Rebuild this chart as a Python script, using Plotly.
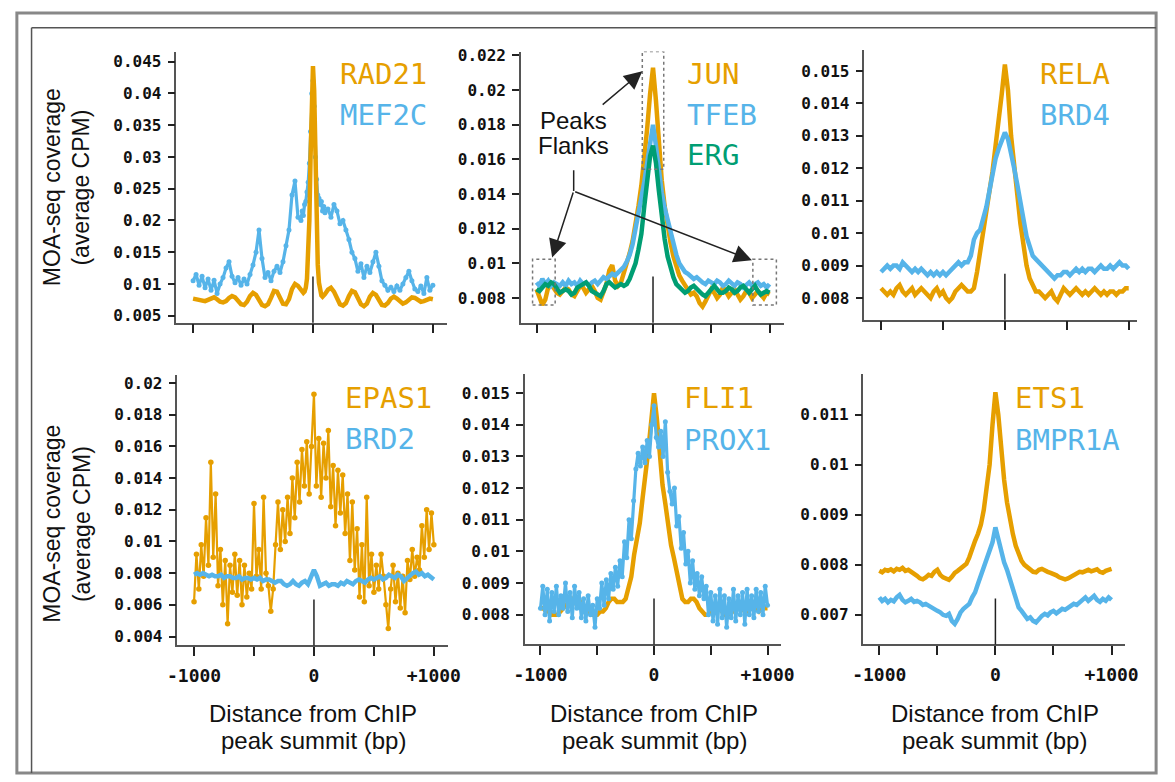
import plotly.graph_objects as go

W, H = 1175, 782
ORANGE = "#E69F00"
BLUE = "#56B4E9"
GREEN = "#009E73"

# ---------------- positions (bp from ChIP peak summit) ----------------
POS_25 = list(range(-1000, 1001, 25))
POS_20 = list(range(-1000, 1001, 20))
POS_P1 = list(range(-1000, -124, 25)) + list(range(-100, 101, 10)) + list(range(125, 1001, 25))

# ---------------- panel 1 ----------------
RAD21 = [0.0077, 0.0076, 0.0075, 0.0074, 0.0073, 0.0075, 0.0078, 0.0079, 0.0076, 0.0072,
         0.0071, 0.0073, 0.0078, 0.0081, 0.0079, 0.0073, 0.0068, 0.0067, 0.0072, 0.0081,
         0.0086, 0.0083, 0.0074, 0.0067, 0.0065, 0.0068, 0.0078, 0.0089, 0.0088, 0.0079,
         0.0069, 0.0068, 0.0076, 0.0092, 0.0100, 0.0097,
         0.0090, 0.0087, 0.0086, 0.0088, 0.0094, 0.0108, 0.0140, 0.0200, 0.0300, 0.0400,
         0.0443, 0.0405, 0.0300, 0.0195, 0.0130, 0.0102, 0.0088, 0.0082, 0.0080, 0.0081, 0.0084,
         0.0091, 0.0094, 0.0088, 0.0077, 0.0068, 0.0066, 0.0070, 0.0081, 0.0089, 0.0087,
         0.0078, 0.0068, 0.0065, 0.0069, 0.0080, 0.0086, 0.0083, 0.0075, 0.0067, 0.0066,
         0.0070, 0.0077, 0.0080, 0.0077, 0.0072, 0.0069, 0.0071, 0.0075, 0.0079, 0.0078,
         0.0074, 0.0072, 0.0073, 0.0075, 0.0077, 0.0076]
MEF2C = [0.0105, 0.0115, 0.0098, 0.0112, 0.0094, 0.0108, 0.0090, 0.0106, 0.0085, 0.0100,
         0.0110, 0.0125, 0.0135, 0.0112, 0.0102, 0.0110, 0.0098, 0.0108, 0.0100, 0.0115,
         0.0130, 0.0150, 0.0185, 0.0140, 0.0110, 0.0118, 0.0105, 0.0120, 0.0128, 0.0118,
         0.0135, 0.0160, 0.0185, 0.0240, 0.0262, 0.0205,
         0.0200, 0.0215, 0.0208, 0.0225, 0.0230, 0.0245, 0.0260, 0.0290, 0.0340, 0.0400,
         0.0420, 0.0380, 0.0300, 0.0265, 0.0240, 0.0235, 0.0225, 0.0230, 0.0215, 0.0222, 0.0212,
         0.0218, 0.0205, 0.0225, 0.0215, 0.0195, 0.0200, 0.0185, 0.0170, 0.0150, 0.0140,
         0.0120, 0.0132, 0.0110, 0.0128, 0.0118, 0.0135, 0.0150, 0.0128, 0.0105, 0.0098,
         0.0090, 0.0095, 0.0088, 0.0097, 0.0090, 0.0100, 0.0110, 0.0120, 0.0105, 0.0092,
         0.0088, 0.0097, 0.0085, 0.0110, 0.0090, 0.0098]

# ---------------- panel 2 ----------------
JUN = [0.0085, 0.0080, 0.0076, 0.0079, 0.0086, 0.0088, 0.0085, 0.0083, 0.0082, 0.0084,
       0.0086, 0.0085, 0.0082, 0.0081, 0.0084, 0.0087, 0.0086, 0.0083, 0.0085, 0.0087,
       0.0084, 0.0080, 0.0079, 0.0083, 0.0088, 0.0096, 0.0099, 0.0090, 0.0087, 0.0089,
       0.0094, 0.0100, 0.0106, 0.0113, 0.0122, 0.0133, 0.0145, 0.0160, 0.0178, 0.0198,
       0.0213,
       0.0194, 0.0168, 0.0148, 0.0133, 0.0120, 0.0112, 0.0104, 0.0098, 0.0093, 0.0090,
       0.0087, 0.0084, 0.0082, 0.0083, 0.0081, 0.0077, 0.0075, 0.0078, 0.0082, 0.0085,
       0.0083, 0.0080, 0.0082, 0.0086, 0.0084, 0.0081, 0.0083, 0.0085, 0.0082, 0.0079,
       0.0081, 0.0084, 0.0083, 0.0080, 0.0082, 0.0084, 0.0082, 0.0080, 0.0083, 0.0082]
TFEB = [0.0089, 0.0087, 0.0091, 0.0088, 0.0090, 0.0087, 0.0089, 0.0088, 0.0087, 0.0089,
        0.0087, 0.0090, 0.0088, 0.0089, 0.0087, 0.0090, 0.0088, 0.0089, 0.0087, 0.0089,
        0.0090, 0.0088, 0.0090, 0.0092, 0.0091, 0.0093, 0.0094, 0.0093, 0.0095, 0.0096,
        0.0098, 0.0101, 0.0105, 0.0111, 0.0121, 0.0129, 0.0138, 0.0147, 0.0157, 0.0170,
        0.0180,
        0.0168, 0.0153, 0.0141, 0.0132, 0.0125, 0.0118, 0.0111, 0.0105, 0.0100, 0.0097,
        0.0095, 0.0094, 0.0092, 0.0091, 0.0092, 0.0090, 0.0089, 0.0088, 0.0090, 0.0089,
        0.0088, 0.0090, 0.0089, 0.0087, 0.0088, 0.0090, 0.0088, 0.0087, 0.0089, 0.0088,
        0.0086, 0.0088, 0.0089, 0.0087, 0.0088, 0.0089, 0.0087, 0.0088, 0.0086, 0.0088]
ERG = [0.0085, 0.0084, 0.0086, 0.0088, 0.0087, 0.0089, 0.0088, 0.0085, 0.0083, 0.0084,
       0.0085, 0.0084, 0.0082, 0.0083, 0.0086, 0.0087, 0.0088, 0.0089, 0.0087, 0.0084,
       0.0083, 0.0082, 0.0081, 0.0084, 0.0088, 0.0089, 0.0087, 0.0086, 0.0087, 0.0088,
       0.0087, 0.0088, 0.0091, 0.0095, 0.0100, 0.0108, 0.0117, 0.0133, 0.0150, 0.0162,
       0.0168,
       0.0158, 0.0142, 0.0127, 0.0114, 0.0104, 0.0097, 0.0092, 0.0088, 0.0086, 0.0084,
       0.0083, 0.0084, 0.0086, 0.0087, 0.0085, 0.0083, 0.0082, 0.0081, 0.0083, 0.0086,
       0.0087, 0.0085, 0.0083, 0.0083, 0.0084, 0.0086, 0.0085, 0.0083, 0.0084, 0.0086,
       0.0087, 0.0085, 0.0083, 0.0085, 0.0087, 0.0084, 0.0082, 0.0083, 0.0084, 0.0083]

# ---------------- panel 3 ----------------
RELA = [0.0083, 0.0082, 0.0081, 0.0082, 0.0081, 0.0083, 0.0084, 0.0082, 0.0081, 0.0082,
        0.0083, 0.0081, 0.0082, 0.0083, 0.0082, 0.0081, 0.0080, 0.0082, 0.0083, 0.0081,
        0.0082, 0.0080, 0.0079, 0.0080, 0.0082, 0.0083, 0.0084, 0.0083, 0.0082, 0.0082,
        0.0083, 0.0088, 0.0094, 0.0100, 0.0105, 0.0112, 0.0119, 0.0127, 0.0134, 0.0143,
        0.0152,
        0.0144, 0.0130, 0.0122, 0.0112, 0.0103, 0.0096, 0.0090, 0.0086, 0.0084, 0.0082,
        0.0082, 0.0081, 0.0080, 0.0081, 0.0082, 0.0080, 0.0079, 0.0081, 0.0083, 0.0082,
        0.0081, 0.0082, 0.0083, 0.0082, 0.0081, 0.0082, 0.0081, 0.0082, 0.0083, 0.0082,
        0.0081, 0.0082, 0.0081, 0.0082, 0.0082, 0.0081, 0.0082, 0.0082, 0.0083, 0.0083]
BRD4 = [0.0088, 0.0089, 0.0090, 0.0089, 0.0090, 0.0090, 0.0089, 0.0091, 0.0090, 0.0089,
        0.0088, 0.0089, 0.0088, 0.0089, 0.0088, 0.0087, 0.0088, 0.0087, 0.0088, 0.0087,
        0.0088, 0.0087, 0.0088, 0.0089, 0.0090, 0.0091, 0.0090, 0.0091, 0.0091, 0.0093,
        0.0098, 0.0100, 0.0101, 0.0104, 0.0108, 0.0113, 0.0118, 0.0123, 0.0126, 0.0129,
        0.0131,
        0.0129, 0.0125, 0.0120, 0.0115, 0.0110, 0.0104, 0.0099, 0.0096, 0.0093, 0.0092,
        0.0091, 0.0090, 0.0089, 0.0088, 0.0087, 0.0086, 0.0087, 0.0087, 0.0088, 0.0088,
        0.0087, 0.0088, 0.0089, 0.0088, 0.0089, 0.0088, 0.0089, 0.0089, 0.0088, 0.0089,
        0.0090, 0.0089, 0.0089, 0.0090, 0.0089, 0.0090, 0.0091, 0.0090, 0.0090, 0.0089]

# ---------------- panel 4 ----------------
EPAS1 = [0.0062, 0.0092, 0.0070, 0.0098, 0.0078, 0.0115, 0.0085, 0.0150, 0.0090, 0.0130,
         0.0072, 0.0095, 0.0060, 0.0088, 0.0048, 0.0085, 0.0068, 0.0092, 0.0066, 0.0088,
         0.0060, 0.0085, 0.0065, 0.0080, 0.0070, 0.0124, 0.0078, 0.0095, 0.0070, 0.0128,
         0.0080, 0.0072, 0.0056, 0.0070, 0.0098, 0.0125, 0.0095, 0.0120, 0.0100, 0.0128,
         0.0105, 0.0140, 0.0115, 0.0150, 0.0125, 0.0158, 0.0135, 0.0163, 0.0130, 0.0160,
         0.0193,
         0.0135, 0.0165, 0.0128, 0.0162, 0.0140, 0.0170, 0.0122, 0.0148, 0.0110, 0.0145,
         0.0118, 0.0142, 0.0105, 0.0130, 0.0088, 0.0125, 0.0082, 0.0108, 0.0065, 0.0098,
         0.0062, 0.0128, 0.0072, 0.0092, 0.0068, 0.0085, 0.0070, 0.0092, 0.0078, 0.0060,
         0.0045, 0.0070, 0.0085, 0.0062, 0.0080, 0.0058, 0.0078, 0.0055, 0.0088, 0.0076,
         0.0095, 0.0078, 0.0090, 0.0082, 0.0110, 0.0090, 0.0120, 0.0095, 0.0118, 0.0098]
BRD2 = [0.0079, 0.0080, 0.0079, 0.0080, 0.0079, 0.0078, 0.0079, 0.0078, 0.0078, 0.0079,
        0.0077, 0.0078, 0.0078, 0.0077, 0.0077, 0.0078, 0.0076, 0.0077, 0.0077, 0.0076,
        0.0077, 0.0076, 0.0077, 0.0075, 0.0076, 0.0076, 0.0075, 0.0074, 0.0075, 0.0075,
        0.0073, 0.0072, 0.0073, 0.0075, 0.0073, 0.0072, 0.0074, 0.0075, 0.0073, 0.0077,
        0.0082,
        0.0078, 0.0072, 0.0073, 0.0074, 0.0072, 0.0073, 0.0073, 0.0072, 0.0074, 0.0073,
        0.0075, 0.0074, 0.0073, 0.0075, 0.0076, 0.0075, 0.0074, 0.0076, 0.0077, 0.0076,
        0.0077, 0.0078, 0.0076, 0.0077, 0.0079, 0.0078, 0.0077, 0.0079, 0.0078, 0.0075,
        0.0077, 0.0079, 0.0080, 0.0081, 0.0079, 0.0080, 0.0078, 0.0079, 0.0077, 0.0076]

# ---------------- panel 5 ----------------
FLI1 = [0.0082, 0.0082, 0.0081, 0.0081, 0.0080, 0.0080, 0.0080, 0.0081, 0.0082, 0.0083,
        0.0084, 0.0085, 0.0084, 0.0083, 0.0084, 0.0082, 0.0081, 0.0081, 0.0080, 0.0080,
        0.0080, 0.0081, 0.0081, 0.0082, 0.0084, 0.0085, 0.0085, 0.0084, 0.0084, 0.0084,
        0.0085, 0.0088, 0.0092, 0.0099, 0.0104, 0.0109, 0.0117, 0.0124, 0.0132, 0.0141,
        0.0150,
        0.0142, 0.0130, 0.0121, 0.0115, 0.0108, 0.0102, 0.0098, 0.0093, 0.0088, 0.0085,
        0.0084, 0.0084, 0.0085, 0.0085, 0.0084, 0.0082, 0.0081, 0.0080, 0.0080, 0.0081,
        0.0082, 0.0083, 0.0082, 0.0081, 0.0080, 0.0080, 0.0081, 0.0081, 0.0082, 0.0082,
        0.0082, 0.0081, 0.0081, 0.0082, 0.0082, 0.0082, 0.0081, 0.0082, 0.0082, 0.0082]
PROX1 = [0.0082, 0.0089, 0.0080, 0.0088, 0.0078, 0.0087, 0.0081, 0.0089, 0.0080, 0.0086,
         0.0082, 0.0090, 0.0081, 0.0087, 0.0079, 0.0089, 0.0082, 0.0087, 0.0079, 0.0085,
         0.0078, 0.0086, 0.0080, 0.0083, 0.0076, 0.0085, 0.0082, 0.0090, 0.0083, 0.0091,
         0.0085, 0.0093, 0.0088, 0.0095, 0.0089, 0.0097, 0.0092, 0.0103, 0.0098, 0.0110,
         0.0104, 0.0116, 0.0126, 0.0131, 0.0127, 0.0133, 0.0128, 0.0135, 0.0130, 0.0140,
         0.0146,
         0.0136, 0.0133, 0.0138, 0.0130, 0.0141, 0.0125, 0.0119, 0.0115, 0.0120, 0.0108,
         0.0111, 0.0101, 0.0106, 0.0096, 0.0100, 0.0090, 0.0097, 0.0088, 0.0093, 0.0086,
         0.0092, 0.0085, 0.0089, 0.0080, 0.0087, 0.0078, 0.0086, 0.0077, 0.0088, 0.0079,
         0.0086, 0.0076, 0.0085, 0.0079, 0.0088, 0.0078, 0.0086, 0.0080, 0.0087, 0.0077,
         0.0088, 0.0080, 0.0086, 0.0079, 0.0088, 0.0081, 0.0087, 0.0080, 0.0089, 0.0083]

# ---------------- panel 6 ----------------
ETS1 = [0.00788, 0.00785, 0.00790, 0.00788, 0.00791, 0.00787, 0.00792, 0.00790, 0.00794, 0.00788,
        0.00790, 0.00786, 0.00784, 0.00778, 0.00773, 0.00771, 0.00775, 0.00780, 0.00778, 0.00786,
        0.00790, 0.00780, 0.00775, 0.00772, 0.00770, 0.00776, 0.00784, 0.00788, 0.00792, 0.00797,
        0.00802, 0.00815, 0.00835, 0.00848, 0.00862, 0.00880, 0.00910, 0.00950, 0.01000, 0.01080,
        0.01145,
        0.01100, 0.01030, 0.00970, 0.00925, 0.00890, 0.00862, 0.00838, 0.00820, 0.00808, 0.00800,
        0.00795, 0.00790, 0.00786, 0.00785, 0.00790, 0.00792, 0.00788, 0.00786, 0.00784, 0.00782,
        0.00779, 0.00775, 0.00772, 0.00771, 0.00773, 0.00776, 0.00780, 0.00784, 0.00786, 0.00785,
        0.00788, 0.00790, 0.00787, 0.00789, 0.00791, 0.00786, 0.00784, 0.00788, 0.00790, 0.00792]
BMPR1A = [0.00735, 0.00728, 0.00732, 0.00725, 0.00730, 0.00727, 0.00735, 0.00740, 0.00730, 0.00725,
          0.00728, 0.00732, 0.00726, 0.00728, 0.00725, 0.00720, 0.00722, 0.00718, 0.00714, 0.00712,
          0.00708, 0.00705, 0.00700, 0.00698, 0.00702, 0.00688, 0.00682, 0.00692, 0.00705, 0.00712,
          0.00718, 0.00722, 0.00735, 0.00745, 0.00762, 0.00778, 0.00792, 0.00808, 0.00825, 0.00845,
          0.00875,
          0.00852, 0.00820, 0.00805, 0.00790, 0.00770, 0.00750, 0.00730, 0.00715, 0.00708, 0.00700,
          0.00692, 0.00695, 0.00688, 0.00685, 0.00692, 0.00698, 0.00702, 0.00699, 0.00705, 0.00708,
          0.00703, 0.00708, 0.00712, 0.00710, 0.00715, 0.00718, 0.00722, 0.00720, 0.00725, 0.00730,
          0.00735, 0.00728, 0.00732, 0.00738, 0.00730, 0.00726, 0.00732, 0.00728, 0.00735, 0.00730]

# ---------------- tick labels ----------------
X_TICKS = [-1000, -500, 0, 500, 1000]
X_TICK_TEXT = ["-1000", "", "0", "", "+1000"]
Y_TICKS_1 = ["0.005", "0.01", "0.015", "0.02", "0.025", "0.03", "0.035", "0.04", "0.045"]
Y_TICKS_2 = ["0.008", "0.01", "0.012", "0.014", "0.016", "0.018", "0.02", "0.022"]
Y_TICKS_3 = ["0.008", "0.009", "0.01", "0.011", "0.012", "0.013", "0.014", "0.015"]
Y_TICKS_4 = ["0.004", "0.006", "0.008", "0.01", "0.012", "0.014", "0.016", "0.018", "0.02"]
Y_TICKS_5 = ["0.008", "0.009", "0.01", "0.011", "0.012", "0.013", "0.014", "0.015"]
Y_TICKS_6 = ["0.007", "0.008", "0.009", "0.01", "0.011"]

for arr, pos in [(RAD21, POS_P1), (MEF2C, POS_P1), (JUN, POS_25), (TFEB, POS_25), (ERG, POS_25),
                 (RELA, POS_25), (BRD4, POS_25), (EPAS1, POS_20), (BRD2, POS_25), (FLI1, POS_25),
                 (PROX1, POS_20), (ETS1, POS_25), (BMPR1A, POS_25)]:
    assert len(arr) == len(pos), (len(arr), len(pos))


def px(x):
    return x / W


def py(y):
    return 1 - y / H


def bold(labels):
    return ["<b>%s</b>" % t if t else "" for t in labels]


PANELS = [
    dict(box=(169, 445, 47, 321), xr=[-1139, 1114], yr=[0.0039, 0.0466], yt=Y_TICKS_1,
         series=[(POS_P1, MEF2C, BLUE, "noisy"), (POS_P1, RAD21, ORANGE, "line")],
         labels=[("RAD21", ORANGE, 334, 70), ("MEF2C", BLUE, 334, 111)], bottom=False),
    dict(box=(521, 790, 47, 321), xr=[-1134, 1126], yr=[0.00657, 0.02223], yt=Y_TICKS_2,
         series=[(POS_25, JUN, ORANGE, "line"), (POS_25, TFEB, BLUE, "line"), (POS_25, ERG, GREEN, "line")],
         labels=[("JUN", ORANGE, 689, 70), ("TFEB", BLUE, 689, 111), ("ERG", GREEN, 689, 152)], bottom=False),
    dict(box=(872, 1150, 45, 318), xr=[-1134, 1063], yr=[0.00733, 0.01566], yt=Y_TICKS_3,
         series=[(POS_25, RELA, ORANGE, "line"), (POS_25, BRD4, BLUE, "line")],
         labels=[("RELA", ORANGE, 1049, 70), ("BRD4", BLUE, 1049, 111)], bottom=False),
    dict(box=(170, 447, 374, 647), xr=[-1139, 1122], yr=[0.00344, 0.0205], yt=Y_TICKS_4,
         series=[(POS_20, EPAS1, ORANGE, "scatter"), (POS_25, BRD2, BLUE, "line")],
         labels=[("EPAS1", ORANGE, 339, 397), ("BRD2", BLUE, 339, 438)], bottom=True),
    dict(box=(525, 787, 373, 646), xr=[-1138, 1121], yr=[0.00706, 0.0156], yt=Y_TICKS_5,
         series=[(POS_25, FLI1, ORANGE, "line"), (POS_20, PROX1, BLUE, "noisy")],
         labels=[("FLI1", ORANGE, 686, 397), ("PROX1", BLUE, 686, 440)], bottom=True),
    dict(box=(871, 1138, 373, 646), xr=[-1136, 1114], yr=[0.00641, 0.01181], yt=Y_TICKS_6,
         series=[(POS_25, ETS1, ORANGE, "line"), (POS_25, BMPR1A, BLUE, "line")],
         labels=[("ETS1", ORANGE, 1024, 397), ("BMPR1A", BLUE, 1024, 440)], bottom=True),
]

fig = go.Figure()
layout = dict(width=W, height=H, margin=dict(l=0, r=0, t=0, b=0),
              paper_bgcolor="white", plot_bgcolor="white", showlegend=False)
annotations = []
shapes = []
TICKFONT = dict(family="DejaVu Sans Mono", size=16, color="#111")
XTICKFONT = dict(family="DejaVu Sans Mono", size=18, color="#111")
LABELFONT = "DejaVu Sans Mono"
TEXTFONT = "Liberation Sans"

for i, p in enumerate(PANELS, start=1):
    sfx = "" if i == 1 else str(i)
    xa, ya = "x" + sfx, "y" + sfx
    x0, x1, yt, yb = p["box"]
    for xs, ys, col, kind in p["series"]:
        if kind == "line":
            tr = go.Scatter(x=xs, y=ys, mode="lines", line=dict(color=col, width=4.5),
                            xaxis=xa, yaxis=ya)
        elif kind == "noisy":
            tr = go.Scatter(x=xs, y=ys, mode="lines+markers", line=dict(color=col, width=3.2),
                            marker=dict(color=col, size=5), xaxis=xa, yaxis=ya)
        else:
            tr = go.Scatter(x=xs, y=ys, mode="lines+markers", line=dict(color=col, width=2.2),
                            marker=dict(color=col, size=5.5), xaxis=xa, yaxis=ya)
        fig.add_trace(tr)
    yvals = [float(t) for t in p["yt"]]
    layout["xaxis" + sfx] = dict(
        domain=[px(x0), px(x1)], range=p["xr"], anchor=ya, showgrid=False, zeroline=False,
        showline=True, linecolor="#555", linewidth=1.5, ticks="outside", ticklen=9,
        tickwidth=2, tickcolor="#222", tickvals=X_TICKS, ticktext=bold(X_TICK_TEXT),
        showticklabels=p["bottom"], tickfont=XTICKFONT, ticklabelstandoff=4)
    layout["yaxis" + sfx] = dict(
        domain=[py(yb), py(yt)], range=p["yr"], anchor=xa, showgrid=False, zeroline=False,
        showline=True, linecolor="#555", linewidth=1.5, ticks="outside", ticklen=7,
        tickwidth=2, tickcolor="#222", tickvals=yvals, ticktext=bold(p["yt"]), tickfont=TICKFONT,
        ticklabelstandoff=3)
    shapes.append(dict(type="line", xref=xa, yref=ya + " domain", x0=0, x1=0, y0=0, y1=0.17,
                       line=dict(color="#222", width=1.5)))
    for text, col, lx, ly in p["labels"]:
        annotations.append(dict(text=text, x=px(lx), y=py(ly), xref="paper", yref="paper",
                                xanchor="left", yanchor="middle", showarrow=False,
                                font=dict(family=LABELFONT, size=29, color=col)))

for cy in (184, 524):
    annotations.append(dict(text="MOA-seq coverage", x=px(42), y=py(cy), xref="paper", yref="paper",
                            textangle=-90, showarrow=False, xanchor="center", yanchor="middle",
                            font=dict(family=TEXTFONT, size=23, color="#111")))
    annotations.append(dict(text="(average CPM)", x=px(72), y=py(cy), xref="paper", yref="paper",
                            textangle=-90, showarrow=False, xanchor="center", yanchor="middle",
                            font=dict(family=TEXTFONT, size=23, color="#111")))
for cx in (309, 657, 1005):
    annotations.append(dict(text="Distance from ChIP", x=px(cx), y=py(716), xref="paper", yref="paper",
                            showarrow=False, xanchor="center", yanchor="middle",
                            font=dict(family=TEXTFONT, size=24, color="#111")))
    annotations.append(dict(text="peak summit (bp)", x=px(cx), y=py(743), xref="paper", yref="paper",
                            showarrow=False, xanchor="center", yanchor="middle",
                            font=dict(family=TEXTFONT, size=24, color="#111")))

annotations.append(dict(text="Peaks", x=px(575), y=py(117), xref="paper", yref="paper",
                        showarrow=False, xanchor="center", yanchor="middle",
                        font=dict(family=TEXTFONT, size=24, color="#111")))
annotations.append(dict(text="Flanks", x=px(575), y=py(142), xref="paper", yref="paper",
                        showarrow=False, xanchor="center", yanchor="middle",
                        font=dict(family=TEXTFONT, size=24, color="#111")))
ARROWS = [((-445, 0.01909), (-92, 0.02109)),
          ((-681, 0.01417), (-866, 0.01034)),
          ((-681, 0.01417), (849, 0.01017))]
for (tx, ty), (hx, hy) in ARROWS:
    annotations.append(dict(text="", x=hx, y=hy, ax=tx, ay=ty, xref="x2", yref="y2",
                            axref="x2", ayref="y2", showarrow=True, arrowhead=2, arrowsize=2.4,
                            arrowwidth=1.5, arrowcolor="#222"))
shapes.append(dict(type="line", xref="x2", yref="y2", x0=-681, x1=-681, y0=0.01417, y1=0.01537,
                   line=dict(color="#222", width=1.5)))
for bx0, bx1, by0, by1 in [(-92, 92, 0.01543, 0.02223), (-1034, -840, 0.0076, 0.01023),
                           (857, 1059, 0.0076, 0.01023)]:
    shapes.append(dict(type="rect", xref="x2", yref="y2", x0=bx0, x1=bx1, y0=by0, y1=by1,
                       line=dict(color="#777", width=1.5, dash="dot")))

shapes.append(dict(type="rect", xref="paper", yref="paper", x0=px(6), x1=px(1170), y0=py(776), y1=py(8),
                   line=dict(color="#888", width=3)))
shapes.append(dict(type="line", xref="paper", yref="paper", x0=px(21), x1=px(21), y0=py(776), y1=py(23),
                   line=dict(color="#555", width=1.5)))
shapes.append(dict(type="line", xref="paper", yref="paper", x0=px(21), x1=px(1170), y0=py(23), y1=py(23),
                   line=dict(color="#555", width=1.5)))

layout["annotations"] = annotations
layout["shapes"] = shapes
fig.update_layout(**layout)
fig.write_html("out.html")
